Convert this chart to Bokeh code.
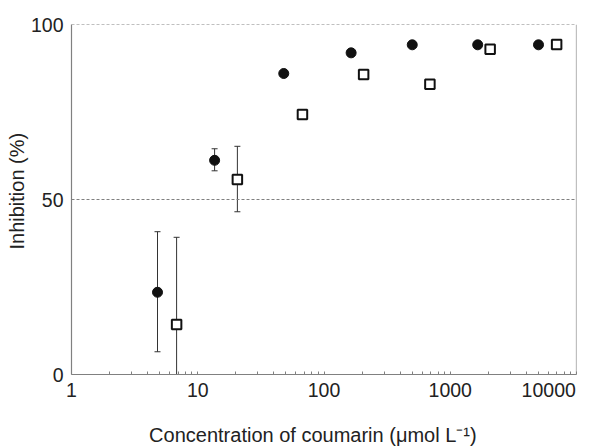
from bokeh.plotting import figure
from bokeh.models import Range1d, FixedTicker, Span, Whisker, ColumnDataSource, TeeHead
from bokeh.embed import file_html
from bokeh.resources import INLINE

# Filled circles series
circ_x = [4.8, 13.6, 48, 164, 500, 1650, 5000]
circ_y = [23.5, 61.2, 86.0, 91.9, 94.2, 94.2, 94.2]
circ_lo = [6.5, 58.2, None, None, None, None, None]
circ_hi = [40.8, 64.5, None, None, None, None, None]

# Open squares series
sq_x = [6.8, 20.6, 67.5, 206, 690, 2070, 6960]
sq_y = [14.3, 55.7, 74.3, 85.7, 82.9, 92.9, 94.3]
sq_lo = [0.0, 46.5, None, None, None, None, None]
sq_hi = [39.2, 65.2, None, None, None, None, None]

x_ticks = [1, 10, 100, 1000, 10000]
x_tick_labels = ["1", "10", "100", "1000", "10000"]
y_ticks = [0, 50, 100]
ref_lines = [50, 100]

FONT = "Liberation Sans"
GRAY = "#808080"
TXT = "#222222"
NB = "\u00a0"

p = figure(width=597, height=448, x_axis_type="log",
           x_range=Range1d(1, 10000), y_range=Range1d(0, 100),
           output_backend="svg", toolbar_location=None,
           min_border_left=71, min_border_right=21,
           min_border_top=24, min_border_bottom=74)
p.outline_line_color = None
p.xgrid.visible = False
p.ygrid.visible = False
p.background_fill_color = "white"
p.border_fill_color = "white"

minor = [m * d for d in [1, 10, 100, 1000] for m in range(2, 10)]
p.xaxis.ticker = FixedTicker(ticks=x_ticks, minor_ticks=minor)
overrides = {t: l for t, l in zip(x_ticks, x_tick_labels)}
# pull the last label inside the page, as in the original
overrides[x_ticks[-1]] = x_tick_labels[-1] + NB * 4
p.xaxis.major_label_overrides = overrides
p.yaxis.ticker = FixedTicker(ticks=y_ticks)

for ax in (p.xaxis, p.yaxis):
    ax.axis_line_color = GRAY
    ax.axis_line_width = 1.2
    ax.major_tick_line_color = GRAY
    ax.minor_tick_line_color = GRAY
    ax.major_label_text_font = FONT
    ax.major_label_text_font_size = "19.5px"
    ax.major_label_text_color = TXT
    ax.axis_label_text_font = FONT
    ax.axis_label_text_font_size = "20px"
    ax.axis_label_text_font_style = "normal"
    ax.axis_label_text_color = TXT

p.xaxis.major_tick_in = 3
p.xaxis.major_tick_out = 0
p.xaxis.minor_tick_in = 3
p.xaxis.minor_tick_out = 0
p.xaxis.major_label_standoff = 4
p.xaxis.axis_label = "Concentration of coumarin (\u03bcmol L\u207b\u00b9)" + NB * 4
p.xaxis.axis_label_standoff = 20

p.yaxis.major_tick_in = 0
p.yaxis.major_tick_out = 0
p.yaxis.minor_tick_line_color = None
p.yaxis.major_label_standoff = 8
p.yaxis.axis_label = NB * 3 + "Inhibition (%)"
p.yaxis.axis_label_standoff = 0

for v in ref_lines:
    p.add_layout(Span(location=v, dimension="width", line_color=GRAY,
                      line_dash="3 2", line_width=1))
p.add_layout(Span(location=x_ticks[-1], dimension="height", line_color=GRAY, line_width=1.2))

def err_source(xs, lo, hi):
    xx, ll, hh = [], [], []
    for x, a, b in zip(xs, lo, hi):
        if a is not None:
            xx.append(x); ll.append(a); hh.append(b)
    return ColumnDataSource(dict(x=xx, lower=ll, upper=hh))

for xs, lo, hi in ((circ_x, circ_lo, circ_hi), (sq_x, sq_lo, sq_hi)):
    src = err_source(xs, lo, hi)
    w = Whisker(base="x", lower="lower", upper="upper", source=src,
                line_color="#333333", line_width=1,
                upper_head=TeeHead(size=6, line_color="#333333", line_width=1),
                lower_head=TeeHead(size=6, line_color="#333333", line_width=1))
    p.add_layout(w)

p.scatter(circ_x, circ_y, marker="circle", size=10, fill_color="#111111",
          line_color="#111111")
p.scatter(sq_x, sq_y, marker="square", size=9.5, fill_color="white",
          line_color="#111111", line_width=2)

open("out.html", "w").write(file_html(p, INLINE))
